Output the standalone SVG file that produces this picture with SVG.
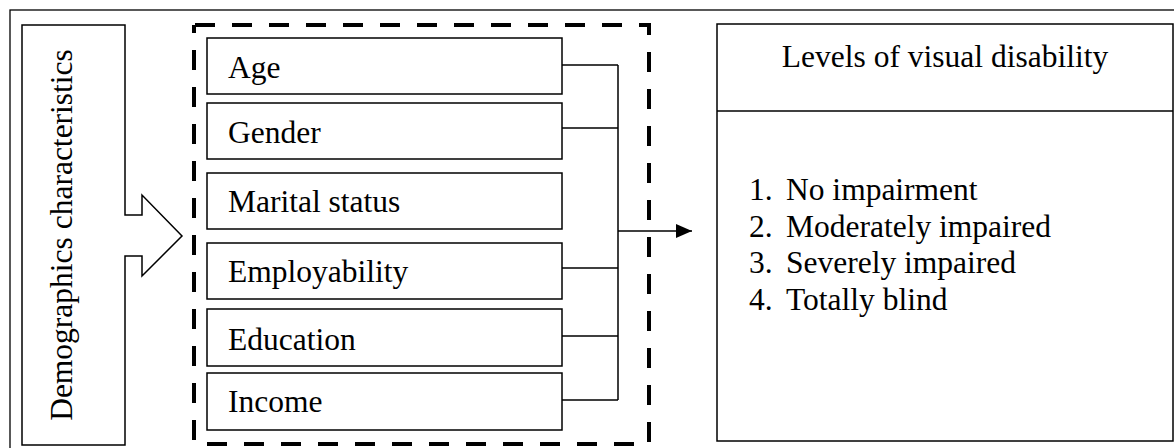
<svg xmlns="http://www.w3.org/2000/svg" width="1174" height="448" viewBox="0 0 1174 448">
  <style>
    .box { fill: #ffffff; stroke: #000000; stroke-width: 1.5; }
    .thin { fill: none; stroke: #000000; stroke-width: 1.3; }
    .dash { fill: none; stroke: #000000; stroke-width: 4; stroke-dasharray: 20 17; }
    .t { font-family: "Liberation Serif", "Times New Roman", serif; font-size: 31.5px; fill: #000000; }
    .conn { fill: none; stroke: #000000; stroke-width: 1.5; }
  </style>
  <defs>
    <marker id="arrow" markerWidth="16" markerHeight="14" refX="16" refY="7" orient="auto" markerUnits="userSpaceOnUse">
      <path d="M0,0 L16,7 L0,14 Z" fill="#000000"/>
    </marker>
  </defs>
  <rect x="0" y="0" width="1174" height="448" fill="#ffffff"/>

  <g id="frame">
    <rect class="thin" x="10" y="10" width="1200" height="500"/>
  </g>

  <g id="demographics">
    <path class="box" d="M22,25 H125 V215 H142 V195 L182,236 L142,276 V256 H125 V445 H22 Z"/>
    <text class="t" x="72" y="235" text-anchor="middle" transform="rotate(-90 72 235)">Demographics characteristics</text>
  </g>

  <g id="factors-group">
    <path class="dash" d="M195,25 H649 V444 H194 V25"/>
  </g>

  <g id="age">
    <rect class="box" x="207" y="38" width="355" height="56"/>
    <text class="t" x="228" y="78">Age</text>
  </g>
  <g id="gender">
    <rect class="box" x="207" y="103" width="355" height="56"/>
    <text class="t" x="228" y="143">Gender</text>
  </g>
  <g id="marital">
    <rect class="box" x="207" y="173" width="355" height="56"/>
    <text class="t" x="228" y="212">Marital status</text>
  </g>
  <g id="employability">
    <rect class="box" x="207" y="243" width="355" height="56"/>
    <text class="t" x="228" y="282">Employability</text>
  </g>
  <g id="education">
    <rect class="box" x="207" y="309" width="355" height="57"/>
    <text class="t" x="228" y="350">Education</text>
  </g>
  <g id="income">
    <rect class="box" x="207" y="373" width="355" height="57"/>
    <text class="t" x="228" y="412">Income</text>
  </g>

  <g id="connectors">
    <path class="conn" d="M562,65 H618 M562,128 H618 M562,268 H618 M562,336 H618 M562,400 H618 M618,65 V400"/>
    <path class="conn" d="M618,231 H692" marker-end="url(#arrow)"/>
  </g>

  <g id="levels">
    <rect class="box" x="717" y="24" width="456" height="417"/>
    <line class="thin" x1="717" y1="111" x2="1173" y2="111"/>
    <text class="t" x="945" y="67" text-anchor="middle">Levels of visual disability</text>
    <text class="t" x="749" y="200">1.</text>
    <text class="t" x="786" y="200">No impairment</text>
    <text class="t" x="749" y="237">2.</text>
    <text class="t" x="786" y="237">Moderately impaired</text>
    <text class="t" x="749" y="273">3.</text>
    <text class="t" x="786" y="273">Severely impaired</text>
    <text class="t" x="749" y="310">4.</text>
    <text class="t" x="786" y="310">Totally blind</text>
  </g>
</svg>
